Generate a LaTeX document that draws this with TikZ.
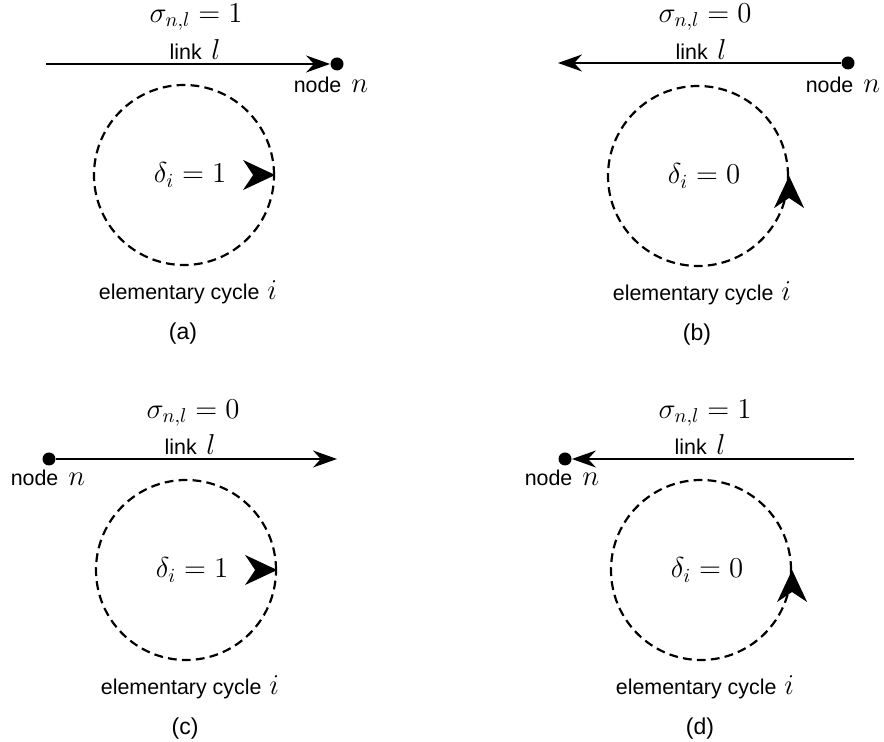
\documentclass[tikz,border=0pt]{standalone}
\usepackage{fontspec}
\setsansfont{Liberation Sans}
\usetikzlibrary{arrows.meta}
\newcommand{\txt}[1]{{\fontsize{10.7}{12}\selectfont\sffamily #1}}

\begin{document}
\begin{tikzpicture}[x=0.5pt,y=-0.5pt,font=\fontsize{14.5}{17}\selectfont,
	linkarr/.style={line width=0.8pt,-{Stealth[length=12pt,width=8.5pt]}},
	nodedot/.style={circle,fill,inner sep=0pt,minimum size=6.5pt},
	elcycle/.style={circle,draw,line width=1.1pt,dash pattern=on 4.4pt off 2.6pt,inner sep=0pt,minimum size=90pt},
	cyctip/.style={line width=0.5pt,-{Stealth[length=16pt,width=15pt,inset=5pt]}}]
	\useasboundingbox (0,0) rectangle (884,742);
	% elementary cycles
	\foreach \p/\cx/\cy/\d in {a/184/175/1,b/698/176/0,c/186/570/1,d/701/570/0} {
		\node[elcycle] (c\p) at (\cx,\cy) {};
		\node (dl\p) at ({\cx+6},\cy) {$\delta_i=\d$};
		\node (el\p) at ({\cx+4},{\cy+117}) {\txt{elementary cycle}\hspace{4pt}$i$};
		\node (pl\p) at ({\cx-1},{\cy+159}) {\txt{\fontsize{11.5}{13}\selectfont(\p)}};
	}
	\draw[cyctip] ([xshift=-1pt]ca.east) -- (ca.east);
	\draw[cyctip] ([yshift=-1pt]cb.east) -- (cb.east);
	\draw[cyctip] ([xshift=-1pt]cc.east) -- (cc.east);
	\draw[cyctip] ([yshift=-1pt]cd.east) -- (cd.east);
	% links
	\coordinate (sa) at (46,64);
	\node[nodedot] (na) at (337,64) {};
	\draw[linkarr] (sa) -- (na);
	\coordinate (sb) at (558,63);
	\node[nodedot] (nb) at (848,63) {};
	\draw[linkarr] (nb) -- (sb);
	\coordinate (sc) at (337,459);
	\node[nodedot] (nc) at (49,459) {};
	\draw[linkarr] (nc) -- (sc);
	\coordinate (sd) at (854,459);
	\node[nodedot] (nd) at (565,459) {};
	\draw[linkarr] (sd) -- (nd);
	% labels
	\node (sga) at (196,17) {$\sigma_{n,l}=1$};
	\node (sgb) at (705,17) {$\sigma_{n,l}=0$};
	\node (sgc) at (193,413) {$\sigma_{n,l}=0$};
	\node (sgd) at (705,413) {$\sigma_{n,l}=1$};
	\node (lka) at (195,50) {\txt{link}\ $l$};
	\node (lkb) at (701,50) {\txt{link}\ $l$};
	\node (lkc) at (190,445) {\txt{link}\ $l$};
	\node (lkd) at (700,445) {\txt{link}\ $l$};
	\node (nla) at (331,85) {\txt{node}\hspace{5pt}$n$};
	\node (nlb) at (843,85) {\txt{node}\hspace{5pt}$n$};
	\node (nlc) at (48,478) {\txt{node}\hspace{5pt}$n$};
	\node (nld) at (562,478) {\txt{node}\hspace{5pt}$n$};
\end{tikzpicture}
\end{document}
